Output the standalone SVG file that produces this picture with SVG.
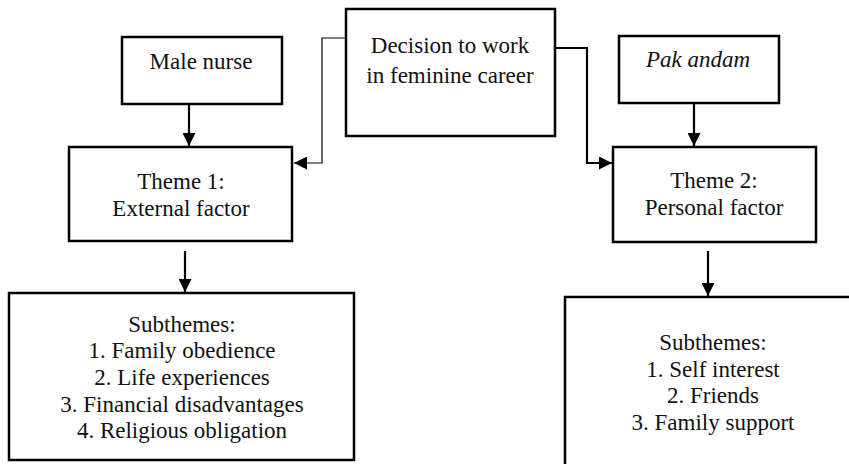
<svg xmlns="http://www.w3.org/2000/svg" width="849" height="464" viewBox="0 0 849 464" font-family="Liberation Serif, Times New Roman, serif">
<style>
.box{fill:#fff;stroke:#000;stroke-width:2.5}
.t{font-family:"Liberation Serif","Times New Roman",serif;font-size:23px;fill:#111;text-anchor:middle}
.conn{fill:none;stroke:#000;stroke-width:2.2}
.thin{fill:none;stroke:#000;stroke-width:1.2}
</style>
<defs>
<marker id="ah" viewBox="0 0 10 10" refX="10" refY="5" markerWidth="13" markerHeight="13" markerUnits="userSpaceOnUse" orient="auto">
<path d="M0,0 L10,5 L0,10 z" fill="#000"/>
</marker>
</defs>
<rect width="849" height="464" fill="#fff"/>
<g id="connectors">
<path class="thin" d="M350,38 H322 V163 H294" marker-end="url(#ah)"/>
<path class="conn" d="M555,48 H587 V163 H612" marker-end="url(#ah)"/>
<path class="conn" d="M189,104 V146" marker-end="url(#ah)"/>
<path class="conn" d="M694,103 V146" marker-end="url(#ah)"/>
<path class="conn" d="M185,251 V292" marker-end="url(#ah)"/>
<path class="conn" d="M708,251 V296" marker-end="url(#ah)"/>
</g>
<g id="decision">
<rect class="box" x="346" y="9" width="209" height="127"/>
<text class="t" x="450" y="53" font-family="Liberation Serif">Decision to work</text>
<text class="t" x="450" y="83" font-family="Liberation Serif">in feminine career</text>
</g>
<g id="male-nurse">
<rect class="box" x="122" y="37" width="160" height="67"/>
<text class="t" x="201" y="69" font-family="Liberation Serif">Male nurse</text>
</g>
<g id="pak-andam">
<rect class="box" x="619" y="36" width="160" height="67"/>
<text class="t" x="698" y="67" font-family="Liberation Serif" font-style="italic">Pak andam</text>
</g>
<g id="theme1">
<rect class="box" x="69" y="147" width="223" height="94"/>
<text class="t" x="181" y="189" font-family="Liberation Serif">Theme 1:</text>
<text class="t" x="181" y="216" font-family="Liberation Serif">External factor</text>
</g>
<g id="theme2">
<rect class="box" x="613" y="147" width="203" height="95"/>
<text class="t" x="714" y="188" font-family="Liberation Serif">Theme 2:</text>
<text class="t" x="714" y="215" font-family="Liberation Serif">Personal factor</text>
</g>
<g id="subthemes1">
<rect class="box" x="9" y="293" width="345" height="167"/>
<text class="t" x="182" y="332" font-family="Liberation Serif">Subthemes:</text>
<text class="t" x="182" y="358" font-family="Liberation Serif">1. Family obedience</text>
<text class="t" x="182" y="385" font-family="Liberation Serif">2. Life experiences</text>
<text class="t" x="182" y="412" font-family="Liberation Serif">3. Financial disadvantages</text>
<text class="t" x="182" y="438" font-family="Liberation Serif">4. Religious obligation</text>
</g>
<g id="subthemes2">
<rect class="box" x="565" y="297" width="300" height="180"/>
<text class="t" x="713" y="350" font-family="Liberation Serif">Subthemes:</text>
<text class="t" x="713" y="377" font-family="Liberation Serif">1. Self interest</text>
<text class="t" x="713" y="403" font-family="Liberation Serif">2. Friends</text>
<text class="t" x="713" y="430" font-family="Liberation Serif">3. Family support</text>
</g>
</svg>
